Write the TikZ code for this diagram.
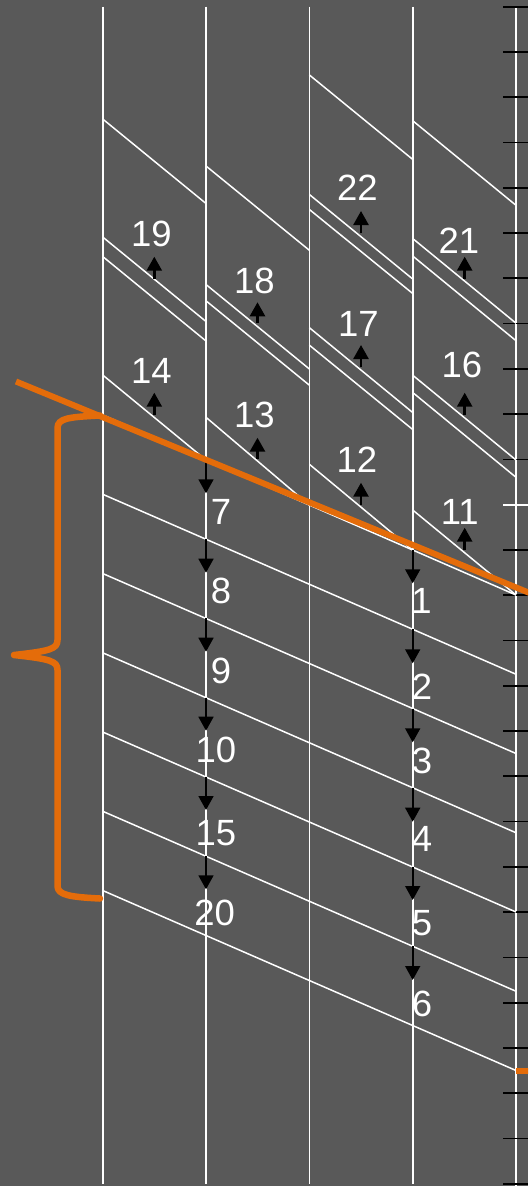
\documentclass[tikz,border=0pt]{standalone}
\usepackage{fontspec}
\setmainfont{Liberation Sans}
\usetikzlibrary{arrows.meta}
\definecolor{bg}{HTML}{595959}
\definecolor{org}{HTML}{E46C0A}
\begin{document}
\begin{tikzpicture}[x=1pt,y=-1pt,
  wline/.style={white,line width=1.5pt},
  vline/.style={white,line width=1.7pt},
  upar/.style={black,line width=2.6pt,-{Triangle[width=15pt,length=14pt]}},
  dnar/.style={black,line width=1.6pt,-{Triangle[width=15pt,length=14pt]}},
  lbl/.style={white,font=\fontsize{36.5}{40}\selectfont,inner sep=0pt},
  tickmark/.style={black,line width=1.7pt},
  orangeline/.style={org,line width=6pt},
  bracestyle/.style={org,line width=6.5pt,line cap=round,line join=round},
]
\useasboundingbox (0,0) rectangle (528,1186);
\fill[bg] (0,0) rectangle (528,1186);
\clip (0,0) rectangle (528,1186);

% vertical column lines
\foreach \n/\x in {0/102.7,1/206.0,2/309.4,3/412.7}{
  \coordinate (vt\n) at (\x,6.7);
  \coordinate (vb\n) at (\x,1183.5);
  \draw[vline] (vt\n) -- (vb\n);
}
\coordinate (axt) at (516,6.7);
\coordinate (axb) at (516,1186);
\draw[vline] (axt) -- (axb);

% ticks on the axis
\foreach \k in {0,...,26}{
  \pgfmathsetmacro{\ty}{6.7+45.27*\k}
  \coordinate (tl\k) at (503,\ty);
  \coordinate (tr\k) at (528,\ty);
  \ifnum\k=11
    \draw[tickmark,white] (tl\k) -- (tr\k);
  \else
    \draw[tickmark] (tl\k) -- (tr\k);
  \fi
}

% steep lines in the upper part
\foreach \n/\xa/\xb/\ya/\yb in {
  a1/102.7/206.0/119/203.5, a2/102.7/206.0/237/321.5, a3/102.7/206.0/256.5/341, a4/102.7/206.0/375/460,
  b1/206.0/309.4/166/250.3, b2/206.0/309.4/284.5/369, b3/206.0/309.4/300.8/385.2, b4/206.0/309.4/417.3/505.1,
  c1/309.4/412.7/75/159.4, c2/309.4/412.7/194.5/279, c3/309.4/412.7/209.5/293.5, c4/309.4/412.7/327.7/412.5, c5/309.4/412.7/345.2/429.5, c6/309.4/412.7/464.3/550.1,
  d1/412.7/516/120.7/205.3, d2/412.7/516/238.5/323.2, d3/412.7/516/256/340.7, d4/412.7/516/375.2/460, d5/412.7/516/392.5/477.3, d6/412.7/516/510/595}{
  \coordinate (s\n a) at (\xa,\ya);
  \coordinate (s\n b) at (\xb,\yb);
  \draw[wline] (s\n a) -- (s\n b);
}

% shallow lines in the lower part
\foreach \n/\ya in {0/415,1/494.25,2/573.5,3/652.75,4/732,5/811.25,6/890.5}{
  \coordinate (ha\n) at (102.7,\ya);
  \coordinate (hb\n) at (516,\ya+180);
  \draw[wline] (ha\n) -- (hb\n);
}

% upward arrows and their labels
\foreach \n/\x/\yb/\yt/\lx/\ly in {
  19/154.3/279/256.7/151.3/234, 14/154.3/415/392.7/151.3/370.5,
  18/257.5/323.3/302.3/254.3/281, 13/257.5/459.3/437.7/254.3/415.3,
  22/361/233.3/211/357.3/187.8, 17/361/366.7/345/358.3/324, 12/361/505/482.7/357/460,
  21/464.7/279/256.7/459/240.8, 16/464.7/415/392.7/462/365.3, 11/464.7/550/527.7/459.7/511.7}{
  \coordinate (ub\n) at (\x,\yb);
  \coordinate (ut\n) at (\x,\yt);
  \draw[upar] (ub\n) -- (ut\n);
  \node[lbl] (l\n) at (\lx,\ly) {\n};
}

% downward arrows and their labels
\foreach \n/\x/\yb/\yt/\lx/\ly in {
  7/206/460/493.3/221/512, 8/206/539.2/572.7/221/591, 9/206/618.4/651.7/221/671,
  10/206/697.7/730.7/215.8/750, 15/206/776.9/810/215.8/833, 20/206/856.2/889.3/214.6/913,
  1/412.7/550/583.3/421.5/601, 2/412.7/629.3/663.3/422/686.5, 3/412.7/708.5/742.3/422/761.3,
  4/412.7/787.8/821.7/422/839.3, 5/412.7/867/900/422/923.3, 6/412.7/946.3/980/422/1003.7}{
  \coordinate (db\n) at (\x,\yb);
  \coordinate (dt\n) at (\x,\yt);
  \draw[dnar] (db\n) -- (dt\n);
  \node[lbl] (l\n) at (\lx,\ly) {\n};
}

% orange cut line
\coordinate (oa) at (16,381.5);
\coordinate (ob) at (532,594);
\draw[orangeline] (oa) -- (ob);
\coordinate (oc) at (516,1071);
\coordinate (od) at (530,1071);
\draw[orangeline] (oc) -- (od);

% orange brace
\coordinate (brt) at (100,415.5);
\coordinate (brtip) at (14,655);
\coordinate (brb) at (100,898.5);
\draw[bracestyle] (brt) .. controls (70,417) and (57.5,418) .. (57.5,428)
  -- (57.5,640) .. controls (57.5,649) and (50,651) .. (brtip)
  .. controls (50,659) and (57.5,661) .. (57.5,670)
  -- (57.5,886) .. controls (57.5,895) and (70,897) .. (brb);
\end{tikzpicture}
\end{document}
